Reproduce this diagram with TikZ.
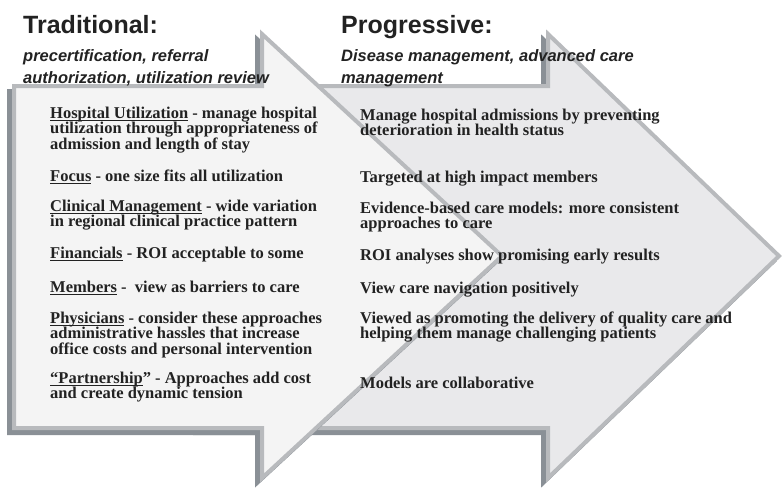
\documentclass[tikz,border=0pt]{standalone}
\usepackage{fontspec}
\setmainfont{Liberation Serif}
\setsansfont{Liberation Sans}
\newlength\myulw
\newcommand\myul[1]{\settowidth{\myulw}{#1}\rlap{\rule[-2.8pt]{\myulw}{1.3pt}}#1}
\definecolor{leftfill}{HTML}{F4F4F4}
\definecolor{rightfill}{HTML}{E9E9EB}
\definecolor{edgegray}{HTML}{B8BABD}
\definecolor{shadowgray}{HTML}{8A9096}
\definecolor{txt}{HTML}{222222}
\tikzset{
  arrowshape/.style={draw=edgegray, line width=4pt, line join=miter},
  shadowshape/.style={fill=shadowgray, draw=shadowgray, line width=4pt, shift={(-5,5)}},
  ttl/.style={font=\sffamily\bfseries\fontsize{25}{30}\selectfont, text=txt, anchor=base west, inner sep=0pt},
  sub/.style={font=\sffamily\bfseries\itshape\fontsize{16.5}{22.5}\selectfont, text=txt, align=left, anchor=base west, inner sep=0pt},
  item/.style={font=\bfseries\fontsize{16.5}{15.6}\selectfont, text=txt, align=left, anchor=base west, inner sep=0pt}
}
\begin{document}
\begin{tikzpicture}[x=1pt,y=-1pt]
\useasboundingbox (0,0) rectangle (783,487);
% right (Progressive) arrow
\fill[shadowshape] (200,86) -- (548,86) -- (548,34) -- (779,256) -- (548,478) -- (548,428) -- (200,428) -- cycle;
\filldraw[arrowshape, fill=rightfill] (200,86) -- (548,86) -- (548,34) -- (779,256) -- (548,478) -- (548,428) -- (200,428) -- cycle;
% left (Traditional) arrow
\fill[shadowshape] (14,86) -- (262,86) -- (262,34) -- (502,256) -- (262,478) -- (262,428) -- (14,428) -- cycle;
\filldraw[arrowshape, fill=leftfill] (14,86) -- (262,86) -- (262,34) -- (502,256) -- (262,478) -- (262,428) -- (14,428) -- cycle;

% titles (multi-line nodes are placed by the baseline of their last line)
\node[ttl] (t1) at (23,34) {Traditional:};
\node[sub] (s1) at (23,83.5) {precertification, referral\\authorization, utilization review};
\node[ttl] (t2) at (341,34) {Progressive:};
\node[sub] (s2) at (341,83.5) {Disease management, advanced care\\management};

% left column
\node[item] (l1) at (50,149.2) {\myul{Hospital Utilization} - manage hospital\\utilization through appropriateness of\\admission and length of stay};
\node[item] (l2) at (50,181) {\myul{Focus} - one size fits all utilization};
\node[item] (l3) at (50,226.6) {\myul{Clinical Management} - wide variation\\in regional clinical practice pattern};
\node[item] (l4) at (50,258) {\myul{Financials} - ROI acceptable to some};
\node[item] (l5) at (50,292) {\myul{Members} -\ \ view as barriers to care};
\node[item] (l6) at (50,354.2) {\myul{Physicians} - consider these approaches\\administrative hassles that increase\\office costs and personal intervention};
\node[item] (l7) at (50,398.6) {\myul{“Partnership}” - Approaches add cost\\and create dynamic tension};

% right column
\node[item] (r1) at (360,135.6) {Manage hospital admissions by preventing\\deterioration in health status};
\node[item] (r2) at (360,182) {Targeted at high impact members};
\node[item] (r3) at (360,228.6) {Evidence-based care models: more consistent\\approaches to care};
\node[item] (r4) at (360,260) {ROI analyses show promising early results};
\node[item] (r5) at (360,293) {View care navigation positively};
\node[item] (r6) at (360,338.6) {Viewed as promoting the delivery of quality care and\\helping them manage challenging patients};
\node[item] (r7) at (360,388) {Models are collaborative};
\end{tikzpicture}
\end{document}
